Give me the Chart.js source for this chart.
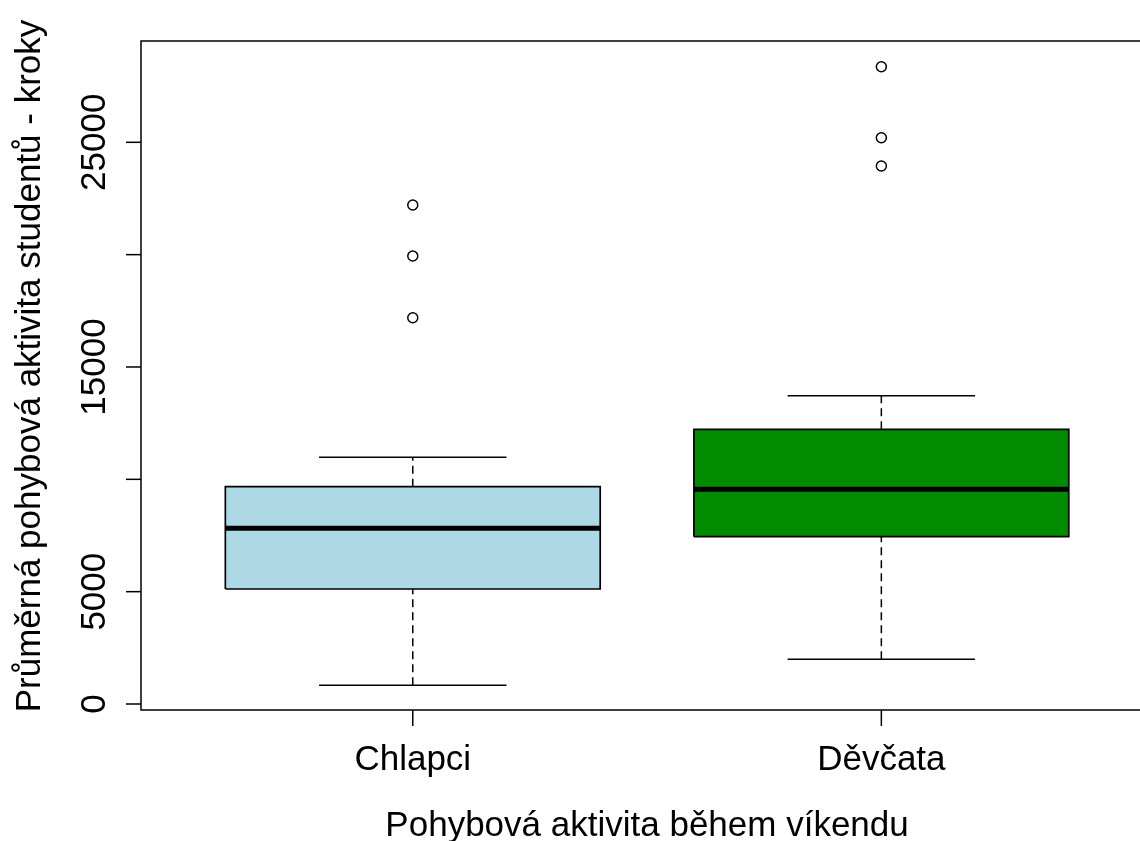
<!DOCTYPE html>
<html>
<head>
<meta charset="utf-8">
<script src="https://cdn.jsdelivr.net/npm/chart.js@4.4.1/dist/chart.umd.min.js"></script>
<style>
  html, body { margin: 0; padding: 0; background: #fff; }
  #wrap { width: 1140px; height: 841px; }
</style>
</head>
<body>
<div id="wrap"><canvas id="chart"></canvas></div>
<script>
// box statistics (steps)
const categories = ['Chlapci', 'Děvčata'];
const whiskerLow = [832, 1989];
const q1 = [5118, 7446];
const median = [7820, 9556];
const q3 = [9672, 12226];
const whiskerHigh = [10980, 13722];
const outliers = [[17193, 19939, 22209], [23945, 25205, 28365]];
const boxColors = ['#ADD8E6', '#008B00'];

const yTicks = [0, 5000, 10000, 15000, 20000, 25000];
const yTickLabels = ['0', '5000', '', '15000', '', '25000'];

const xTitle = 'Pohybová aktivita během víkendu';
const yTitle = 'Průměrná pohybová aktivita studentů - kroky';

const FONT = "35px 'Liberation Sans', Arial, sans-serif";
const BOX_HALF = 0.4;
const CAP_HALF = 0.2;

const datasets = [];
categories.forEach((cat, i) => {
    const c = i + 1;
    // median on top
    datasets.push({
        data: [{ x: c - BOX_HALF, y: median[i] }, { x: c + BOX_HALF, y: median[i] }],
        borderColor: '#000', borderWidth: 5, pointRadius: 0, order: 0
    });
    // box outline
    datasets.push({
        data: [
            { x: c - BOX_HALF, y: q1[i] }, { x: c - BOX_HALF, y: q3[i] },
            { x: c + BOX_HALF, y: q3[i] }, { x: c + BOX_HALF, y: q1[i] },
            { x: c - BOX_HALF, y: q1[i] }
        ],
        borderColor: '#000', borderWidth: 1.7, pointRadius: 0, order: 1
    });
    // box fill
    datasets.push({
        data: [{ x: c - BOX_HALF, y: q3[i] }, { x: c + BOX_HALF, y: q3[i] }],
        borderWidth: 0, borderColor: 'rgba(0,0,0,0)', pointRadius: 0,
        fill: { value: q1[i] }, backgroundColor: boxColors[i], order: 2
    });
    // dashed whiskers
    datasets.push({
        data: [
            { x: c, y: whiskerLow[i] }, { x: c, y: q1[i] }, { x: c, y: null },
            { x: c, y: q3[i] }, { x: c, y: whiskerHigh[i] }
        ],
        borderColor: '#000', borderWidth: 1.5, borderDash: [8, 5], pointRadius: 0,
        spanGaps: false, order: 3
    });
    // whisker caps
    datasets.push({
        data: [
            { x: c - CAP_HALF, y: whiskerLow[i] }, { x: c + CAP_HALF, y: whiskerLow[i] }, { x: c, y: null },
            { x: c - CAP_HALF, y: whiskerHigh[i] }, { x: c + CAP_HALF, y: whiskerHigh[i] }
        ],
        borderColor: '#000', borderWidth: 1.5, pointRadius: 0, spanGaps: false, order: 3
    });
    // outliers
    datasets.push({
        data: outliers[i].map(v => ({ x: c, y: v })),
        showLine: false, pointRadius: 5, pointStyle: 'circle',
        pointBorderColor: '#000', pointBackgroundColor: 'rgba(0,0,0,0)', pointBorderWidth: 1.5,
        order: 0
    });
});

const rAxes = {
    id: 'rAxes',
    afterDraw(chart) {
        const { ctx, chartArea: a, scales: { x, y } } = chart;
        ctx.save();
        ctx.strokeStyle = '#000';
        ctx.fillStyle = '#000';
        ctx.lineWidth = 1.5;

        // plot frame (right side runs off the image)
        ctx.beginPath();
        ctx.moveTo(chart.width, a.top);
        ctx.lineTo(a.left, a.top);
        ctx.lineTo(a.left, a.bottom);
        ctx.lineTo(chart.width, a.bottom);
        ctx.stroke();

        ctx.font = FONT;

        // y axis
        yTicks.forEach((v, k) => {
            const py = y.getPixelForValue(v);
            ctx.beginPath();
            ctx.moveTo(a.left, py);
            ctx.lineTo(a.left - 15, py);
            ctx.stroke();
            if (yTickLabels[k]) {
                ctx.save();
                ctx.translate(a.left - 36, py);
                ctx.rotate(-Math.PI / 2);
                ctx.textAlign = 'center';
                ctx.textBaseline = 'alphabetic';
                ctx.fillText(yTickLabels[k], 0, 0);
                ctx.restore();
            }
        });

        // x axis
        categories.forEach((cat, i) => {
            const px = x.getPixelForValue(i + 1);
            ctx.beginPath();
            ctx.moveTo(px, a.bottom);
            ctx.lineTo(px, a.bottom + 16);
            ctx.stroke();
            ctx.textAlign = 'center';
            ctx.textBaseline = 'alphabetic';
            ctx.fillText(cat, px, 770);
        });

        // titles
        const mid = (x.getPixelForValue(0.42) + x.getPixelForValue(2.58)) / 2;
        ctx.textAlign = 'center';
        ctx.fillText(xTitle, mid, 836);

        ctx.save();
        ctx.translate(40, 366);
        ctx.rotate(-Math.PI / 2);
        ctx.fillText(yTitle, 0, 0);
        ctx.restore();

        ctx.restore();
    }
};

new Chart(document.getElementById('chart'), {
    type: 'line',
    data: { datasets },
    options: {
        responsive: true,
        maintainAspectRatio: false,
        animation: false,
        layout: { autoPadding: false, padding: { left: 141, top: 41, right: 0, bottom: 131 } },
        plugins: { legend: { display: false }, tooltip: { enabled: false } },
        scales: {
            x: { type: 'linear', min: 0.42, max: 2.552, display: false },
            y: { type: 'linear', min: -267, max: 29509, display: false }
        }
    },
    plugins: [rAxes]
});
</script>
</body>
</html>
